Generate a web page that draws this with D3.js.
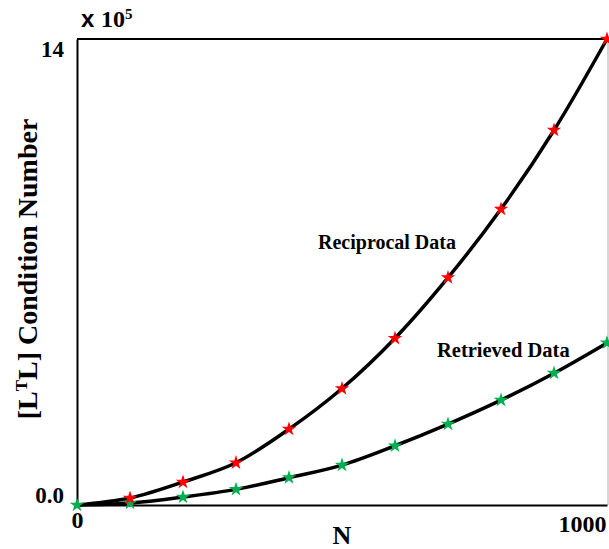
<!DOCTYPE html>
<html>
<head>
<meta charset="utf-8">
<script src="https://cdn.jsdelivr.net/npm/d3@7"></script>
<style>
  body { margin: 0; background: #fff; }
  svg text { font-family: "Liberation Serif", "Times New Roman", serif; font-weight: bold; fill: #000; }
</style>
</head>
<body>
<div id="chart"></div>
<script>
// chart size
const margin = { top: 39, right: 2, bottom: 44, left: 77 };
const width = 609 - margin.left - margin.right;
const height = 549 - margin.top - margin.bottom;

// data (y in units of 1e5)
const nValues = [0, 100, 200, 300, 400, 500, 600, 700, 800, 900, 1000];
const reciprocal = [0, 0.21, 0.69, 1.27, 2.28, 3.50, 5.01, 6.83, 8.89, 11.26, 14.0];
const retrieved = [0, 0.06, 0.24, 0.47, 0.82, 1.20, 1.78, 2.43, 3.15, 3.96, 4.87];
const xTicks = [0, 1000];
const yTicks = [0, 14];
const yTickLabels = ["0.0", "14"];

const svg = d3.select('#chart')
  .append('svg')
  .attr('width', 609)
  .attr('height', 549);

const g = svg.append('g')
  .attr('transform', `translate(${margin.left}, ${margin.top})`);

const xScale = d3.scaleLinear().domain([0, 1000]).range([0, width]);
const yScale = d3.scaleLinear().domain([0, 14]).range([height, 0]);

// frame
g.append('line').attr('x1', 0).attr('x2', width).attr('y1', 0).attr('y2', 0)
  .attr('stroke', '#000').attr('stroke-width', 2);
g.append('line').attr('x1', width + 1).attr('x2', width + 1).attr('y1', 0).attr('y2', height)
  .attr('stroke', '#c8c8c8').attr('stroke-width', 1.5);

// axes
const xAxis = d3.axisBottom(xScale).tickValues(xTicks).tickSize(0)
  .tickFormat(d3.format('d'));
const yAxis = d3.axisLeft(yScale).tickValues(yTicks).tickSize(0).tickPadding(13)
  .tickFormat((d, i) => yTickLabels[i]);

const gx = g.append('g')
  .attr('transform', 'translate(0,' + height + ')')
  .call(xAxis);
gx.select('.domain').attr('stroke', '#000').attr('stroke-width', 2);
gx.selectAll('text').attr('font-size', 24).attr('dy', 0).attr('y', 23);
gx.selectAll('.tick').filter(d => d == 1000).select('text')
  .attr('text-anchor', 'end').attr('x', -1).attr('y', 27);

const gy = g.append('g').call(yAxis);
gy.select('.domain').attr('stroke', '#000').attr('stroke-width', 2);
gy.selectAll('text').attr('font-size', 23).attr('dy', 0)
  .attr('y', d => d == 14 ? 17 : -3);

// axis titles
svg.append('text')
  .attr('x', 342)
  .attr('y', 544)
  .attr('text-anchor', 'middle')
  .attr('font-size', 26)
  .text('N');

const yTitle = svg.append('text')
  .attr('transform', 'translate(37,269) rotate(-90)')
  .attr('text-anchor', 'middle')
  .attr('font-size', 28);
yTitle.append('tspan').text('[L');
yTitle.append('tspan').attr('font-size', 17).attr('dy', -10).text('T');
yTitle.append('tspan').attr('dy', 10).text('L] Condition Number');

// multiplier
const mult = svg.append('text')
  .attr('x', 81)
  .attr('y', 27)
  .attr('font-size', 24);
mult.append('tspan').style('font-family', '"Liberation Sans", Arial, sans-serif').text('x ');
mult.append('tspan').text('10');
mult.append('tspan').attr('font-size', 15).attr('dy', -8).text('5');

// curves
const line = d3.line()
  .x((d, i) => xScale(nValues[i]))
  .y(d => yScale(d))
  .curve(d3.curveCatmullRom);

[retrieved, reciprocal].forEach(series => {
  g.append('path')
    .datum(series)
    .attr('fill', 'none')
    .attr('stroke', '#000')
    .attr('stroke-width', 3.5)
    .attr('stroke-linecap', 'round')
    .attr('d', line);
});

// star markers
const star = d3.symbol().type(d3.symbolStar).size(65);

g.selectAll('.green')
  .data(retrieved)
  .join('path')
  .attr('class', 'green')
  .attr('transform', (d, i) => `translate(${xScale(nValues[i])},${yScale(d)})`)
  .attr('fill', '#00b050')
  .attr('d', star);

g.selectAll('.red')
  .data(reciprocal)
  .join('path')
  .attr('class', 'red')
  .attr('transform', (d, i) => `translate(${xScale(nValues[i])},${yScale(d)})`)
  .attr('fill', '#ff0000')
  .filter((d, i) => i > 0)
  .attr('d', star);

// series labels
svg.append('text').attr('x', 318).attr('y', 249).attr('font-size', 20).text('Reciprocal Data');
svg.append('text').attr('x', 437).attr('y', 357).attr('font-size', 20.5).text('Retrieved Data');
</script>
</body>
</html>
